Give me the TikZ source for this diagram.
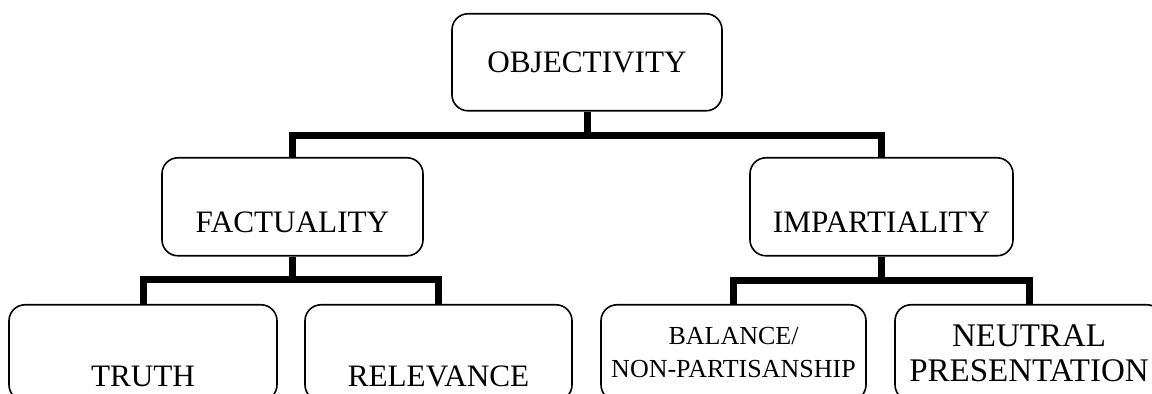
\documentclass[tikz,border=0pt]{standalone}
\usepackage{fontspec}
\setmainfont{Liberation Serif}
\usepackage{tikz}
\usetikzlibrary{calc, positioning}

\begin{document}
\begin{tikzpicture}[x=0.5pt, y=0.5pt,
    box/.style={draw, rounded corners=8pt, line width=0.8pt, inner sep=0pt,
        anchor=north, minimum height=48pt, font=\fontsize{15.6}{18}\selectfont},
    link/.style={line width=3.5pt, line join=miter}]
    % 1. Khung hình
    \useasboundingbox (0,0) rectangle (1152,394);
    \clip (0,0) rectangle (1152,394);

    % 2. Các ô
    \node[box, minimum width=135pt, text height=29.5pt, text depth=19pt]
        (obj) at (587,381) {OBJECTIVITY};
    \node[box, minimum width=130.5pt, text height=37.5pt, text depth=11.5pt]
        (fact) at (292.5,237) {FACTUALITY};
    \node[box, minimum width=131.5pt, text height=37.5pt, text depth=11.5pt]
        (imp) at (881.5,237) {IMPARTIALITY};
    \node[box, minimum width=134pt, text height=41pt, text depth=7pt]
        (truth) at (143,90) {TRUTH};
    \node[box, minimum width=133.5pt, text height=41pt, text depth=7pt]
        (relev) at (438.5,90) {RELEVANCE};
    \node[box, minimum width=132.5pt, align=center,
        font=\fontsize{13}{16.5}\selectfont]
        (bal) at (733.5,90) {BALANCE/\\NON-PARTISANSHIP};
    \node[box, minimum width=134pt, align=center,
        font=\fontsize{16.5}{17.5}\selectfont]
        (neut) at (1029,90) {NEUTRAL\\PRESENTATION};

    % 3. Các nhánh
    \draw[link] (obj.south) -- ++(0,-23.5) coordinate (objbar);
    \draw[link] (fact.north) |- (objbar) -| (imp.north);
    \draw[link] (fact.south) -- ++(0,-22.5) coordinate (factbar);
    \draw[link] (truth.north) |- (factbar) -| (relev.north);
    \draw[link] (imp.south) -- ++(0,-23.5) coordinate (impbar);
    \draw[link] (bal.north) |- (impbar) -| (neut.north);
\end{tikzpicture}
\end{document}
